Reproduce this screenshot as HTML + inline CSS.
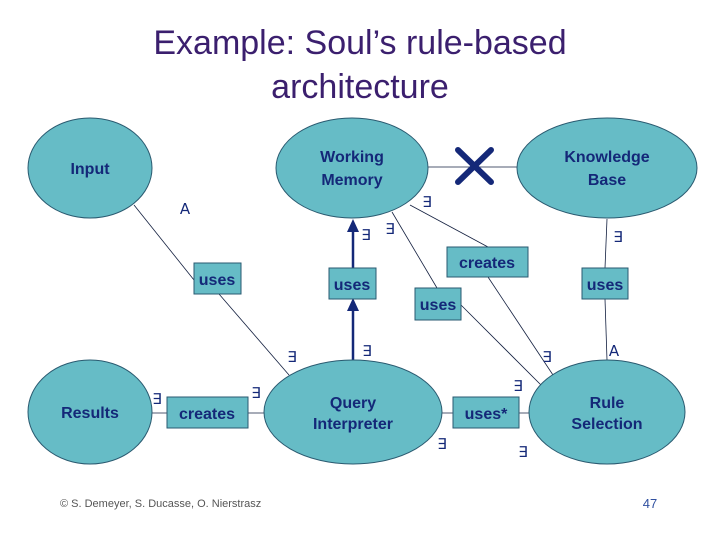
<!DOCTYPE html>
<html><head><meta charset="utf-8"><style>
body{margin:0;background:#fff;width:720px;height:540px;overflow:hidden}
svg{display:block}
.t{font-family:"Liberation Sans",sans-serif;font-weight:bold;font-size:16px;fill:#142878;text-anchor:middle}
.q{font-family:"Liberation Sans",sans-serif;font-size:15px;fill:#142878;text-anchor:middle}
</style></head><body>
<svg width="720" height="540" viewBox="0 0 720 540">
<text x="360" y="54" font-family="Liberation Sans,sans-serif" font-size="34" fill="#3b1f6e" text-anchor="middle">Example: Soul’s rule-based</text>
<text x="360" y="98" font-family="Liberation Sans,sans-serif" font-size="34" fill="#3b1f6e" text-anchor="middle">architecture</text>
<g stroke="#142040" stroke-width="0.8" fill="none">
<line x1="134" y1="205" x2="194" y2="280"/><line x1="219" y1="294" x2="289" y2="375"/>
<line x1="410" y1="205" x2="488" y2="247"/><line x1="488" y1="277" x2="553" y2="375"/>
<line x1="392" y1="212" x2="437" y2="288"/><line x1="461" y1="305" x2="541" y2="385"/>
<line x1="607" y1="219" x2="605" y2="268"/><line x1="605" y1="299" x2="607" y2="360"/>
<line x1="152" y1="413" x2="264" y2="413"/><line x1="442" y1="413" x2="530" y2="413"/>
<line x1="428" y1="167" x2="517" y2="167"/>
</g>
<g stroke="#142878" stroke-width="2.5"><line x1="353" y1="360" x2="353" y2="305"/><line x1="353" y1="268" x2="353" y2="225"/></g>
<g fill="#142878"><polygon points="353,298 347,311 359,311"/><polygon points="353,219 347,232 359,232"/></g>
<g fill="#66bcc6" stroke="#2a5a70" stroke-width="1">
<ellipse cx="90" cy="168" rx="62" ry="50"/>
<ellipse cx="352" cy="168" rx="76" ry="50"/>
<ellipse cx="607" cy="168" rx="90" ry="50"/>
<ellipse cx="90" cy="412" rx="62" ry="52"/>
<ellipse cx="353" cy="412" rx="89" ry="52"/>
<ellipse cx="607" cy="412" rx="78" ry="52"/>
<rect x="194" y="263" width="47" height="31"/>
<rect x="329" y="268" width="47" height="31"/>
<rect x="447" y="247" width="81" height="30"/>
<rect x="415" y="288" width="46" height="32"/>
<rect x="582" y="268" width="46" height="31"/>
<rect x="167" y="397" width="81" height="31"/>
<rect x="453" y="397" width="66" height="31"/>
</g>
<g stroke="#142878" stroke-width="6" stroke-linecap="round"><line x1="458" y1="150" x2="491" y2="182"/><line x1="491" y1="150" x2="458" y2="182"/></g>
<text class="t" x="90" y="174">Input</text>
<text class="t" x="352" y="162">Working</text><text class="t" x="352" y="185">Memory</text>
<text class="t" x="607" y="162">Knowledge</text><text class="t" x="607" y="185">Base</text>
<text class="t" x="90" y="418">Results</text>
<text class="t" x="353" y="408">Query</text><text class="t" x="353" y="429">Interpreter</text>
<text class="t" x="607" y="408">Rule</text><text class="t" x="607" y="429">Selection</text>
<text class="t" x="217" y="285">uses</text>
<text class="t" x="352" y="290">uses</text>
<text class="t" x="487" y="268">creates</text>
<text class="t" x="438" y="310">uses</text>
<text class="t" x="605" y="290">uses</text>
<text class="t" x="207" y="419">creates</text>
<text class="t" x="486" y="419">uses*</text>
<g class="q">
<text class="q" x="427" y="207">∃</text><text class="q" x="366" y="240">∃</text><text class="q" x="390" y="234">∃</text>
<text class="q" x="618" y="242">∃</text><text class="q" x="292" y="362">∃</text><text class="q" x="367" y="356">∃</text>
<text class="q" x="547" y="362">∃</text><text class="q" x="157" y="404">∃</text><text class="q" x="256" y="398">∃</text>
<text class="q" x="518" y="391">∃</text><text class="q" x="442" y="449">∃</text><text class="q" x="523" y="457">∃</text>
<text class="q" transform="translate(185,203) scale(1,-1)">∀</text>
<text class="q" transform="translate(614,345) scale(1,-1)">∀</text>
</g>
<text x="60" y="507" font-family="Liberation Sans,sans-serif" font-size="11" fill="#555">© S. Demeyer, S. Ducasse, O. Nierstrasz</text>
<text x="650" y="508" font-family="Liberation Sans,sans-serif" font-size="13" fill="#3050a0" text-anchor="middle">47</text>
</svg>
</body></html>
